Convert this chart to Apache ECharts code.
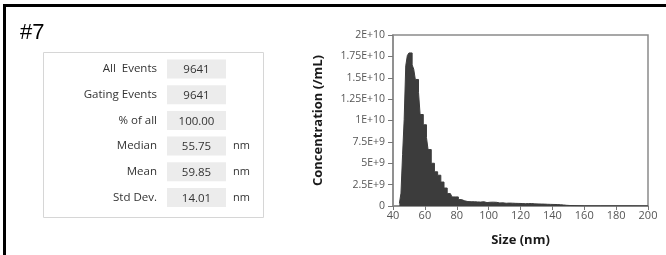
<!DOCTYPE html>
<html>
<head>
<meta charset="utf-8">
<script src="https://cdn.jsdelivr.net/npm/echarts@6/dist/echarts.min.js"></script>
<style>
  html, body { margin: 0; padding: 0; background: #fff; }
  #main { width: 666px; height: 255px; }
</style>
</head>
<body>
<div id="main"></div>
<script>
// histogram bins (left edge, nm) and concentration (/mL)
var binStart = [44, 45, 46, 47, 48, 49, 50, 51, 52, 53, 54, 55, 56, 57, 58, 59, 60, 61, 62, 63,
  64, 65, 66, 67, 68, 69, 70, 71, 72, 73, 74, 75, 76, 77, 78, 79, 80, 81, 82, 83,
  84, 85, 86, 87, 88, 89, 90, 91, 92, 93, 94, 95, 96, 97, 98, 99, 100, 101, 102, 103,
  104, 105, 106, 107, 108, 109, 110, 111, 112, 113, 114, 115, 116, 117, 118, 119, 120, 121, 122, 123,
  124, 125, 126, 127, 128, 129, 130, 131, 132, 133, 134, 135, 136, 137, 138, 139, 140, 141, 142, 143,
  144, 145, 146, 147, 148, 149, 150, 151, 152, 160, 170, 180, 190, 200];
var concentration = [0.3e9, 1.5e9, 6.0e9, 10.1e9, 16.4e9, 17.6e9, 17.9e9, 17.9e9, 16.5e9, 16.0e9,
  14.8e9, 14.8e9, 13.3e9, 10.7e9, 10.7e9, 9.5e9, 9.5e9, 8.0e9, 6.6e9, 6.6e9,
  5.0e9, 5.0e9, 4.0e9, 4.0e9, 3.6e9, 3.6e9, 2.8e9, 2.8e9, 2.1e9, 2.1e9,
  1.45e9, 1.45e9, 1.45e9, 1.06e9, 1.06e9, 1.06e9, 1.06e9, 0.75e9, 0.75e9, 0.75e9,
  0.6e9, 0.55e9, 0.52e9, 0.58e9, 0.5e9, 0.55e9, 0.5e9, 0.45e9, 0.48e9, 0.42e9,
  0.46e9, 0.44e9, 0.5e9, 0.45e9, 0.4e9, 0.47e9, 0.44e9, 0.42e9, 0.45e9, 0.4e9,
  0.43e9, 0.38e9, 0.36e9, 0.33e9, 0.37e9, 0.35e9, 0.32e9, 0.36e9, 0.34e9, 0.38e9,
  0.33e9, 0.35e9, 0.31e9, 0.34e9, 0.3e9, 0.33e9, 0.29e9, 0.3e9, 0.27e9, 0.31e9,
  0.28e9, 0.26e9, 0.29e9, 0.27e9, 0.25e9, 0.28e9, 0.24e9, 0.26e9, 0.23e9, 0.25e9,
  0.22e9, 0.24e9, 0.2e9, 0.22e9, 0.19e9, 0.21e9, 0.18e9, 0.2e9, 0.17e9, 0.16e9,
  0.15e9, 0.14e9, 0.12e9, 0.11e9, 0.08e9, 0.07e9, 0.06e9, 0.04e9, 0.02e9, 0.02e9,
  0.02e9, 0.02e9, 0.02e9, 0.02e9];
var yTickLabels = ['0', '2.5E+9', '5E+9', '7.5E+9', '1E+10', '1.25E+10', '1.5E+10', '1.75E+10', '2E+10'];

// stats panel
var statLabels = ['All  Events', 'Gating Events', '% of all', 'Median', 'Mean', 'Std Dev.'];
var statValues = ['9641', '9641', '100.00', '55.75', '59.85', '14.01'];
var statUnits = ['', '', '', 'nm', 'nm', 'nm'];

var chart = echarts.init(document.getElementById('main'), null, { renderer: 'canvas' });

var seriesData = [];
for (var i = 0; i < binStart.length; i++) {
  seriesData.push([binStart[i], concentration[i]]);
}

var font = '"Open Sans", sans-serif';
var graphics = [
  // outer frame (top + left)
  { type: 'line', shape: { x1: 3, y1: 5.5, x2: 666, y2: 5.5 }, style: { stroke: '#000', lineWidth: 3 } },
  { type: 'line', shape: { x1: 4.5, y1: 4, x2: 4.5, y2: 255 }, style: { stroke: '#000', lineWidth: 3 } },
  { type: 'text', left: 20, top: 22, style: { text: '#7', font: '22px "Liberation Sans", Arial', fill: '#000' } },
  // stats box
  { type: 'rect', shape: { x: 43.5, y: 52.5, width: 220, height: 165 }, style: { fill: '#fff', stroke: '#d6d6d6', lineWidth: 1 } }
];
for (var r = 0; r < statLabels.length; r++) {
  var cy = 69 + r * 25.7;
  graphics.push({ type: 'rect', shape: { x: 167, y: cy - 9.5, width: 59, height: 19 }, style: { fill: '#ececec' } });
  graphics.push({ type: 'text', x: 157, y: cy, style: { text: statLabels[r], font: '11.5px ' + font, fill: '#333', align: 'right', verticalAlign: 'middle' } });
  graphics.push({ type: 'text', x: 196.5, y: cy + 1, style: { text: statValues[r], font: '11.5px ' + font, fill: '#333', align: 'center', verticalAlign: 'middle' } });
  if (statUnits[r]) {
    graphics.push({ type: 'text', x: 233, y: cy, style: { text: statUnits[r], font: '11px ' + font, fill: '#333', align: 'left', verticalAlign: 'middle' } });
  }
}

var option = {
  animation: false,
  backgroundColor: '#fff',
  grid: {
    left: 393, right: 18, top: 35, bottom: 49,
    show: true, borderColor: '#8a8a8a', borderWidth: 1.5
  },
  xAxis: {
    type: 'value',
    min: 40, max: 200, interval: 20,
    name: 'Size (nm)',
    nameLocation: 'middle',
    nameGap: 28,
    nameTextStyle: { fontFamily: font, fontSize: 13, fontWeight: 'bold', color: '#1a1a1a' },
    axisLine: { show: true, onZero: false, lineStyle: { color: '#8a8a8a', width: 1.5 } },
    axisTick: { show: true, length: 4, lineStyle: { color: '#777' } },
    axisLabel: { fontFamily: font, fontSize: 11, color: '#555', margin: 4 },
    splitLine: { show: false }
  },
  yAxis: {
    type: 'value',
    min: 0, max: 2e10, interval: 2.5e9,
    name: 'Concentration (/mL)',
    nameLocation: 'middle',
    nameGap: 68,
    nameTextStyle: { fontFamily: font, fontSize: 13, fontWeight: 'bold', color: '#1a1a1a' },
    axisLine: { show: true, lineStyle: { color: '#8a8a8a', width: 1.5 } },
    axisTick: { show: true, length: 5, lineStyle: { color: '#777' } },
    axisLabel: {
      fontFamily: font, fontSize: 10.5, color: '#555', margin: 8,
      formatter: function (v) { return yTickLabels[Math.round(v / 2.5e9)]; }
    },
    splitLine: { show: false }
  },
  series: [{
    type: 'line',
    step: 'end',
    data: seriesData,
    symbol: 'none',
    lineStyle: { color: '#3c3c3c', width: 1 },
    areaStyle: { color: '#3c3c3c', opacity: 1 }
  }],
  graphic: graphics
};

chart.setOption(option);
</script>
</body>
</html>
